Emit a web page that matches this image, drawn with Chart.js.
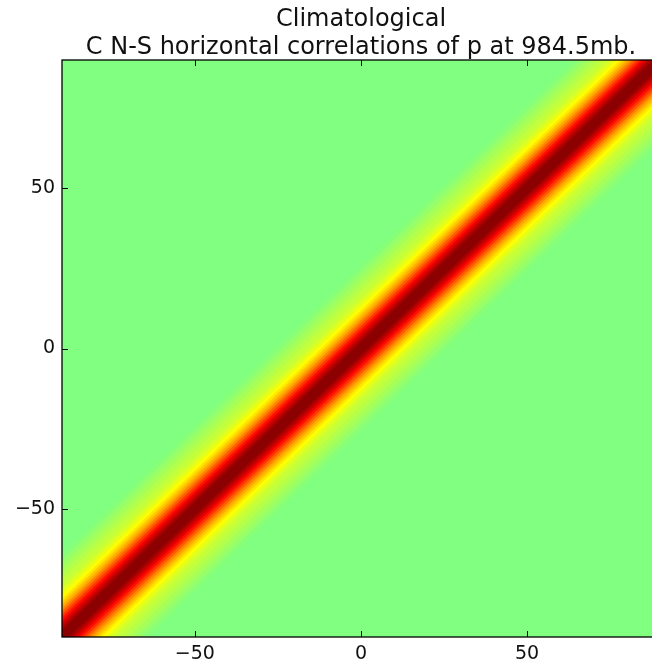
<!DOCTYPE html>
<html>
<head>
<meta charset="utf-8">
<script src="https://cdn.jsdelivr.net/npm/chart.js@4.4.1/dist/chart.umd.min.js"></script>
<style>
  html, body { margin: 0; padding: 0; background: #fff; overflow: hidden; }
  #wrap { width: 672px; height: 664px; }
</style>
</head>
<body>
<div id="wrap"><canvas id="chart" width="672" height="664"></canvas></div>
<script>
const titleLines = ['Climatological', 'C N-S horizontal correlations of p at 984.5mb.'];
const axisMin = -90;
const axisMax = 90;
const tickValues = [-50, 0, 50];

// correlation against N-S separation (degrees)
const lagDeg = [0, 2, 3, 4, 5, 6, 7, 8, 9, 10, 11, 12, 13, 14, 15, 16, 18, 20, 22, 24, 26];
const corrValues = [1.0, 0.955, 0.905, 0.84, 0.765, 0.685, 0.605, 0.525, 0.45, 0.385, 0.325, 0.27, 0.23, 0.195, 0.17, 0.15, 0.12, 0.09, 0.06, 0.03, 0.0];

// jet colormap, correlations scaled from [-1, 1]
function jetColor(c) {
  const v = (c + 1) / 2;
  const clamp = (a) => Math.max(0, Math.min(1, a));
  const r = clamp(Math.min(4 * v - 1.5, -4 * v + 4.5));
  const g = clamp(Math.min(4 * v - 0.5, -4 * v + 3.5));
  const b = clamp(Math.min(4 * v + 0.5, -4 * v + 2.5));
  return `rgb(${Math.round(r * 255)}, ${Math.round(g * 255)}, ${Math.round(b * 255)})`;
}

// one diagonal strip |y - x| < d for each band, narrowest first so it is drawn on top
function strip(d) {
  const e = axisMax + 10;
  return [
    { x: -e, y: -e + d },
    { x: e, y: e + d },
    { x: e, y: e - d },
    { x: -e, y: -e - d },
  ];
}

const datasets = [];
for (let i = 0; i < lagDeg.length - 1; i++) {
  const c = (corrValues[i] + corrValues[i + 1]) / 2;
  datasets.push({
    data: strip(lagDeg[i + 1]),
    backgroundColor: jetColor(c),
    borderWidth: 0,
    pointRadius: 0,
    fill: 'shape',
  });
}
// everything farther out sits at the last value
datasets.push({
  data: strip(2 * (axisMax - axisMin)),
  backgroundColor: jetColor(corrValues[corrValues.length - 1]),
  borderWidth: 0,
  pointRadius: 0,
  fill: 'shape',
});

const frameAndTitle = {
  id: 'frameAndTitle',
  afterDatasetsDraw(chart) {
    const { ctx, chartArea: a, scales } = chart;
    const tl = 6;
    ctx.save();
    ctx.strokeStyle = '#000';
    ctx.lineWidth = 1;
    ctx.beginPath();
    for (const v of tickValues) {
      const px = Math.round(scales.x.getPixelForValue(v)) + 0.5;
      ctx.moveTo(px, a.bottom);
      ctx.lineTo(px, a.bottom - tl);
      ctx.moveTo(px, a.top);
      ctx.lineTo(px, a.top + tl);
      const py = Math.round(scales.y.getPixelForValue(v)) + 0.5;
      ctx.moveTo(a.left, py);
      ctx.lineTo(a.left + tl, py);
      ctx.moveTo(a.right, py);
      ctx.lineTo(a.right - tl, py);
    }
    ctx.stroke();
    ctx.lineWidth = 1.3;
    ctx.strokeRect(a.left, a.top, a.right - a.left, a.bottom - a.top);
    ctx.restore();
  },
  afterDraw(chart) {
    const { ctx, chartArea: a } = chart;
    ctx.save();
    ctx.fillStyle = '#111';
    ctx.font = '24px "DejaVu Sans"';
    ctx.textAlign = 'center';
    ctx.textBaseline = 'alphabetic';
    const cx = (a.left + a.right) / 2;
    ctx.fillText(titleLines[0], cx, 26);
    ctx.fillText(titleLines[1], cx, 54);
    ctx.restore();
  },
};

const tickFont = { family: 'DejaVu Sans', size: 19 };
const minusLabel = (v) => String(v).replace('-', '\u2212');

new Chart(document.getElementById('chart'), {
  type: 'line',
  data: { datasets },
  options: {
    responsive: false,
    animation: false,
    events: [],
    layout: { padding: { top: 60, right: 12, left: 0, bottom: 0 } },
    plugins: { legend: { display: false }, tooltip: { enabled: false } },
    scales: {
      x: {
        type: 'linear',
        min: axisMin,
        max: axisMax,
        afterBuildTicks: (scale) => { scale.ticks = tickValues.map((value) => ({ value })); },
        afterFit: (scale) => { scale.height = 27; },
        grid: { display: false, drawTicks: false },
        border: { display: false },
        ticks: { font: tickFont, color: '#111', padding: 6, maxRotation: 0, callback: minusLabel },
      },
      y: {
        type: 'linear',
        min: axisMin,
        max: axisMax,
        afterBuildTicks: (scale) => { scale.ticks = tickValues.map((value) => ({ value })); },
        afterFit: (scale) => { scale.width = 62; },
        grid: { display: false, drawTicks: false },
        border: { display: false },
        ticks: { font: tickFont, color: '#111', padding: 7, callback: minusLabel },
      },
    },
  },
  plugins: [frameAndTitle],
});
</script>
</body>
</html>
